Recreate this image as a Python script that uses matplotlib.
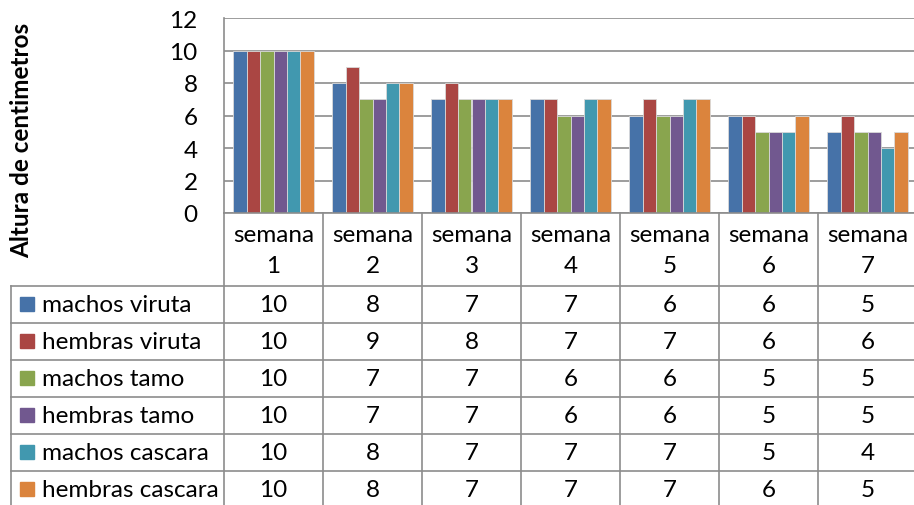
import matplotlib.pyplot as plt
import numpy as np

categories = ['semana\n1', 'semana\n2', 'semana\n3', 'semana\n4',
              'semana\n5', 'semana\n6', 'semana\n7']
series_names = ['machos viruta', 'hembras viruta', 'machos tamo',
                'hembras tamo', 'machos cascara', 'hembras cascara']
machos_viruta = [10, 8, 7, 7, 6, 6, 5]
hembras_viruta = [10, 9, 8, 7, 7, 6, 6]
machos_tamo = [10, 7, 7, 6, 6, 5, 5]
hembras_tamo = [10, 7, 7, 6, 6, 5, 5]
machos_cascara = [10, 8, 7, 7, 7, 5, 4]
hembras_cascara = [10, 8, 7, 7, 7, 6, 5]
series = [machos_viruta, hembras_viruta, machos_tamo,
          hembras_tamo, machos_cascara, hembras_cascara]
colors = ['#4672A8', '#AA4643', '#89A54E', '#71588F', '#4198AF', '#DB843D']
yticks = [0, 2, 4, 6, 8, 10, 12]

plt.rcParams['font.family'] = ['Lato', 'DejaVu Sans']

W, H = 914, 506
fig = plt.figure(figsize=(W / 100, H / 100), dpi=100)

# pixel layout of the Excel-style chart
x0, x1 = 224, 917       # plot area left / right (right edge cropped)
y_top, y_axis = 19, 214  # plot area top / category axis
grid_c = '#8C8C8C'
n = len(categories)
col_w = (x1 - x0) / n
fs = 17.5

ax = fig.add_axes([x0 / W, 1 - y_axis / H, (x1 - x0) / W, (y_axis - y_top) / H])
group_w = 0.81
bw = group_w / len(series)
xs = np.arange(n)
for i, (vals, c) in enumerate(zip(series, colors)):
    ax.bar(xs - group_w / 2 + bw * (i + 0.5), vals, width=bw, color=c,
           edgecolor='#D9D9D9', linewidth=0.6, zorder=3)
ax.set_xlim(-0.5, n - 0.5)
ax.set_ylim(0, 12)
ax.set_yticks(yticks)
ax.set_xticks([])
ax.yaxis.grid(True, color=grid_c, linewidth=1.2, zorder=0)
ax.tick_params(axis='y', length=0, labelsize=fs, pad=19)
for s in ['top', 'right', 'bottom']:
    ax.spines[s].set_visible(False)
ax.spines['left'].set_color(grid_c)
ax.spines['left'].set_linewidth(1.2)

fig.text(22 / W, 1 - 140 / H, 'Altura de centimetros', rotation=90,
         ha='center', va='center', fontsize=17.5, fontweight='bold')

# data table below the axis, drawn in pixel coordinates
tb = fig.add_axes([0, 0, 1, 1])
tb.set_xlim(0, W)
tb.set_ylim(H, 0)
tb.axis('off')

row_top = 287
row_h = 37
n_rows = len(series)
bottom = row_top + row_h * n_rows
lw = 1.2

tb.plot([x0, x1], [y_axis, y_axis], color=grid_c, lw=lw)
for k in range(n + 1):
    xx = x0 + k * col_w
    tb.plot([xx, xx], [y_axis, bottom], color=grid_c, lw=lw)
for r in range(n_rows + 1):
    yy = row_top + r * row_h
    tb.plot([11, x1], [yy, yy], color=grid_c, lw=lw)
tb.plot([11, 11], [row_top, bottom], color=grid_c, lw=lw)

for k, cat in enumerate(categories):
    cx = x0 + (k + 0.5) * col_w
    tb.text(cx, 251, cat, ha='center', va='center', fontsize=fs,
            linespacing=1.6)

for r, (name, vals, c) in enumerate(zip(series_names, series, colors)):
    cy = row_top + (r + 0.5) * row_h
    tb.add_patch(plt.Rectangle((20, cy - 7.5), 14, 14, color=c))
    tb.text(42, cy, name, ha='left', va='center', fontsize=fs)
    for k, v in enumerate(vals):
        cx = x0 + (k + 0.5) * col_w
        tb.text(cx, cy, str(v), ha='center', va='center', fontsize=fs)

fig.savefig('out.png', dpi=100)
